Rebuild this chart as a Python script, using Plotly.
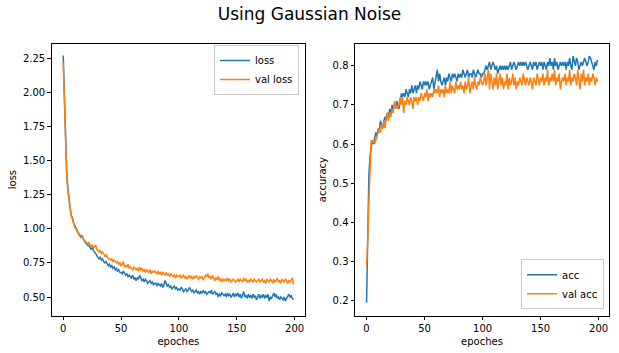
import plotly.graph_objects as go

epochs = list(range(200))

loss = [
    2.27, 1.95, 1.62, 1.42, 1.30, 1.21, 1.15, 1.10, 1.08, 1.04,
    1.02, 1.00, 0.99, 0.97, 0.96, 0.94, 0.95, 0.93, 0.92, 0.90,
    0.89, 0.88, 0.88, 0.86, 0.85, 0.86, 0.84, 0.83, 0.82, 0.80,
    0.79, 0.78, 0.79, 0.77, 0.78, 0.76, 0.75, 0.76, 0.74, 0.73,
    0.74, 0.72, 0.73, 0.71, 0.72, 0.70, 0.71, 0.69, 0.70, 0.68,
    0.68, 0.67, 0.69, 0.67, 0.66, 0.67, 0.65, 0.66, 0.65, 0.64,
    0.66, 0.63, 0.64, 0.62, 0.64, 0.63, 0.66, 0.64, 0.62, 0.63,
    0.61, 0.63, 0.62, 0.60, 0.61, 0.62, 0.60, 0.61, 0.59, 0.60,
    0.60, 0.58, 0.60, 0.59, 0.58, 0.60, 0.57, 0.59, 0.62, 0.60,
    0.58, 0.59, 0.57, 0.58, 0.56, 0.57, 0.58, 0.56, 0.57, 0.55,
    0.56, 0.55, 0.57, 0.56, 0.54, 0.55, 0.56, 0.54, 0.55, 0.57,
    0.55, 0.54, 0.55, 0.53, 0.54, 0.55, 0.53, 0.54, 0.52, 0.54,
    0.53, 0.55, 0.53, 0.54, 0.52, 0.53, 0.54, 0.53, 0.55, 0.52,
    0.53, 0.54, 0.52, 0.53, 0.50, 0.52, 0.51, 0.53, 0.52, 0.51,
    0.52, 0.50, 0.53, 0.51, 0.52, 0.50, 0.51, 0.53, 0.50, 0.52,
    0.51, 0.53, 0.50, 0.52, 0.49, 0.51, 0.54, 0.50, 0.51, 0.49,
    0.52, 0.50, 0.51, 0.49, 0.52, 0.50, 0.51, 0.48, 0.50, 0.52,
    0.49, 0.51, 0.50, 0.52, 0.49, 0.51, 0.50, 0.52, 0.47, 0.50,
    0.49, 0.51, 0.53, 0.50, 0.52, 0.49, 0.50, 0.48, 0.50, 0.49,
    0.48, 0.50, 0.47, 0.49, 0.51, 0.52, 0.50, 0.51, 0.49, 0.48,
]

val_loss = [
    2.22, 1.90, 1.60, 1.40, 1.28, 1.20, 1.14, 1.09, 1.07, 1.03,
    1.01, 1.00, 0.98, 0.97, 0.95, 0.95, 0.94, 0.93, 0.92, 0.91,
    0.90, 0.89, 0.90, 0.88, 0.87, 0.88, 0.86, 0.87, 0.88, 0.85,
    0.84, 0.83, 0.84, 0.82, 0.83, 0.81, 0.80, 0.81, 0.79, 0.78,
    0.78, 0.77, 0.78, 0.76, 0.77, 0.76, 0.75, 0.76, 0.74, 0.75,
    0.73, 0.74, 0.76, 0.72, 0.73, 0.72, 0.74, 0.71, 0.72, 0.71,
    0.70, 0.72, 0.71, 0.70, 0.71, 0.69, 0.72, 0.70, 0.71, 0.69,
    0.70, 0.68, 0.70, 0.69, 0.68, 0.70, 0.67, 0.69, 0.68, 0.69,
    0.68, 0.67, 0.69, 0.67, 0.68, 0.66, 0.68, 0.67, 0.66, 0.68,
    0.66, 0.67, 0.65, 0.67, 0.66, 0.65, 0.66, 0.64, 0.66, 0.65,
    0.65, 0.66, 0.64, 0.65, 0.66, 0.64, 0.65, 0.63, 0.65, 0.66,
    0.64, 0.65, 0.63, 0.65, 0.64, 0.66, 0.64, 0.63, 0.65, 0.64,
    0.65, 0.63, 0.64, 0.66, 0.65, 0.67, 0.64, 0.65, 0.63, 0.66,
    0.64, 0.62, 0.64, 0.63, 0.65, 0.62, 0.63, 0.61, 0.63, 0.62,
    0.63, 0.62, 0.64, 0.62, 0.63, 0.61, 0.62, 0.63, 0.62, 0.61,
    0.62, 0.63, 0.61, 0.63, 0.62, 0.61, 0.64, 0.62, 0.63, 0.61,
    0.62, 0.61, 0.63, 0.62, 0.61, 0.63, 0.62, 0.61, 0.62, 0.63,
    0.61, 0.62, 0.63, 0.61, 0.62, 0.60, 0.63, 0.62, 0.61, 0.63,
    0.62, 0.60, 0.63, 0.61, 0.62, 0.64, 0.61, 0.62, 0.60, 0.63,
    0.62, 0.61, 0.63, 0.62, 0.60, 0.62, 0.61, 0.63, 0.64, 0.59,
]

acc = [
    0.195, 0.40, 0.52, 0.57, 0.59, 0.61, 0.60, 0.62, 0.63, 0.62,
    0.64, 0.63, 0.66, 0.65, 0.64, 0.66, 0.67, 0.66, 0.68, 0.67,
    0.69, 0.68, 0.70, 0.69, 0.70, 0.69, 0.71, 0.70, 0.69, 0.71,
    0.73, 0.72, 0.73, 0.72, 0.74, 0.73, 0.72, 0.74, 0.73, 0.75,
    0.73, 0.74, 0.75, 0.73, 0.75, 0.74, 0.76, 0.75, 0.74, 0.76,
    0.75, 0.76, 0.75, 0.76, 0.74, 0.75, 0.76, 0.77, 0.74, 0.76,
    0.77, 0.79, 0.76, 0.78, 0.76, 0.75, 0.76, 0.77, 0.75, 0.77,
    0.76, 0.78, 0.77, 0.76, 0.78, 0.77, 0.78, 0.77, 0.76, 0.78,
    0.77, 0.78, 0.77, 0.79, 0.78, 0.77, 0.78, 0.79, 0.77, 0.78,
    0.78, 0.77, 0.79, 0.78, 0.77, 0.78, 0.79, 0.78, 0.78, 0.77,
    0.78, 0.78, 0.79, 0.80, 0.79, 0.80, 0.81, 0.79, 0.80, 0.81,
    0.80, 0.79, 0.80, 0.78, 0.79, 0.80, 0.79, 0.80, 0.79, 0.80,
    0.79, 0.80, 0.79, 0.80, 0.81, 0.79, 0.80, 0.81, 0.80, 0.79,
    0.80, 0.81, 0.80, 0.81, 0.80, 0.81, 0.80, 0.81, 0.80, 0.79,
    0.80, 0.81, 0.80, 0.79, 0.81, 0.80, 0.81, 0.79, 0.80, 0.81,
    0.80, 0.81, 0.79, 0.81, 0.80, 0.79, 0.81, 0.80, 0.82, 0.80,
    0.81, 0.79, 0.82, 0.80, 0.81, 0.79, 0.80, 0.81, 0.80, 0.81,
    0.80, 0.81, 0.79, 0.81, 0.80, 0.82, 0.80, 0.79, 0.825, 0.81,
    0.80, 0.82, 0.81, 0.79, 0.80, 0.81, 0.80, 0.81, 0.82, 0.81,
    0.80, 0.81, 0.825, 0.82, 0.81, 0.80, 0.79, 0.81, 0.80, 0.815,
]

val_acc = [
    0.29, 0.35, 0.45, 0.55, 0.61, 0.605, 0.61, 0.60, 0.61, 0.62,
    0.63, 0.64, 0.63, 0.65, 0.64, 0.66, 0.64, 0.67, 0.68, 0.66,
    0.68, 0.67, 0.69, 0.68, 0.71, 0.69, 0.70, 0.69, 0.70, 0.72,
    0.70, 0.72, 0.68, 0.71, 0.70, 0.72, 0.71, 0.70, 0.72, 0.71,
    0.69, 0.72, 0.71, 0.72, 0.70, 0.72, 0.71, 0.73, 0.72, 0.71,
    0.73, 0.72, 0.74, 0.71, 0.73, 0.72, 0.73, 0.72, 0.74, 0.73,
    0.74, 0.73, 0.75, 0.72, 0.74, 0.73, 0.74, 0.72, 0.75, 0.73,
    0.74, 0.73, 0.76, 0.73, 0.75, 0.74, 0.73, 0.76, 0.74, 0.75,
    0.74, 0.76, 0.74, 0.75, 0.73, 0.76, 0.74, 0.75, 0.77, 0.73,
    0.75, 0.76, 0.74, 0.77, 0.75, 0.74, 0.76, 0.75, 0.77, 0.76,
    0.75, 0.76, 0.78, 0.75, 0.77, 0.79, 0.74, 0.78, 0.76, 0.74,
    0.77, 0.75, 0.78, 0.74, 0.76, 0.78, 0.75, 0.77, 0.74, 0.76,
    0.75, 0.78, 0.74, 0.77, 0.75, 0.76, 0.78, 0.75, 0.77, 0.74,
    0.76, 0.75, 0.77, 0.76, 0.75, 0.78, 0.76, 0.75, 0.77, 0.76,
    0.75, 0.77, 0.76, 0.74, 0.77, 0.76, 0.75, 0.78, 0.76, 0.75,
    0.77, 0.76, 0.78, 0.75, 0.77, 0.76, 0.79, 0.75, 0.77, 0.76,
    0.78, 0.76, 0.79, 0.75, 0.77, 0.76, 0.78, 0.74, 0.76, 0.77,
    0.76, 0.78, 0.75, 0.77, 0.76, 0.79, 0.75, 0.77, 0.76, 0.78,
    0.77, 0.75, 0.79, 0.76, 0.74, 0.78, 0.76, 0.79, 0.75, 0.77,
    0.76, 0.78, 0.75, 0.77, 0.76, 0.78, 0.77, 0.75, 0.77, 0.76,
]

title = "Using Gaussian Noise"
x_label = "epoches"
loss_ticks = [0.50, 0.75, 1.00, 1.25, 1.50, 1.75, 2.00, 2.25]
acc_ticks = [0.2, 0.3, 0.4, 0.5, 0.6, 0.7, 0.8]
x_ticks = [0, 50, 100, 150, 200]

BLUE = "#1f77b4"
ORANGE = "#ff7f0e"
FONT = "DejaVu Sans"
W, H = 619, 353

fig = go.Figure()
fig.add_trace(go.Scatter(x=epochs, y=loss, mode="lines", name="loss",
                         line=dict(color=BLUE, width=1.5), xaxis="x", yaxis="y", legend="legend"))
fig.add_trace(go.Scatter(x=epochs, y=val_loss, mode="lines", name="val loss",
                         line=dict(color=ORANGE, width=1.5), xaxis="x", yaxis="y", legend="legend"))
fig.add_trace(go.Scatter(x=epochs, y=acc, mode="lines", name="acc",
                         line=dict(color=BLUE, width=1.5), xaxis="x2", yaxis="y2", legend="legend2"))
fig.add_trace(go.Scatter(x=epochs, y=val_acc, mode="lines", name="val acc",
                         line=dict(color=ORANGE, width=1.5), xaxis="x2", yaxis="y2", legend="legend2"))

ax_common = dict(showline=True, mirror=True, linecolor="black", linewidth=1,
                 ticks="outside", ticklen=3.5, tickwidth=1, tickcolor="black",
                 showgrid=False, zeroline=False,
                 tickfont=dict(family=FONT, size=10, color="black"))

y0 = 1 - 315.7 / H
y1 = 1 - 43.5 / H

fig.update_layout(
    width=W, height=H,
    margin=dict(l=0, r=0, t=0, b=0),
    paper_bgcolor="white", plot_bgcolor="white",
    font=dict(family=FONT, size=10, color="black"),
    title=dict(text=title, x=0.5, xanchor="center", y=1 - 14 / H, yanchor="middle",
               font=dict(family=FONT, size=17, color="black")),
    xaxis=dict(domain=[51.7 / W, 305 / W], range=[-9.95, 208.95], tickvals=x_ticks,
               title=dict(text=x_label, font=dict(size=10), standoff=4), anchor="y", **ax_common),
    yaxis=dict(domain=[y0, y1], range=[0.363, 2.3585], tickvals=loss_ticks,
               ticktext=[f"{v:.2f}" for v in loss_ticks],
               title=dict(text="loss", font=dict(size=10), standoff=4), anchor="x", **ax_common),
    xaxis2=dict(domain=[355 / W, 609 / W], range=[-9.95, 208.95], tickvals=x_ticks,
                title=dict(text=x_label, font=dict(size=10), standoff=4), anchor="y2", **ax_common),
    yaxis2=dict(domain=[y0, y1], range=[0.162, 0.857], tickvals=acc_ticks,
                ticktext=[f"{v:.1f}" for v in acc_ticks],
                title=dict(text="accuracy", font=dict(size=10), standoff=4), anchor="x2", **ax_common),
    legend=dict(x=299 / W, y=1 - 45 / H, xanchor="right", yanchor="top",
                bgcolor="rgba(255,255,255,0.8)", bordercolor="#cccccc", borderwidth=1,
                itemwidth=30,
                font=dict(family=FONT, size=10, color="black"), tracegroupgap=0),
    legend2=dict(x=604 / W, y=1 - 309.3 / H, xanchor="right", yanchor="bottom",
                 bgcolor="rgba(255,255,255,0.8)", bordercolor="#cccccc", borderwidth=1,
                 itemwidth=30,
                 font=dict(family=FONT, size=10, color="black"), tracegroupgap=0),
    showlegend=True,
)

fig.write_html("out.html")
